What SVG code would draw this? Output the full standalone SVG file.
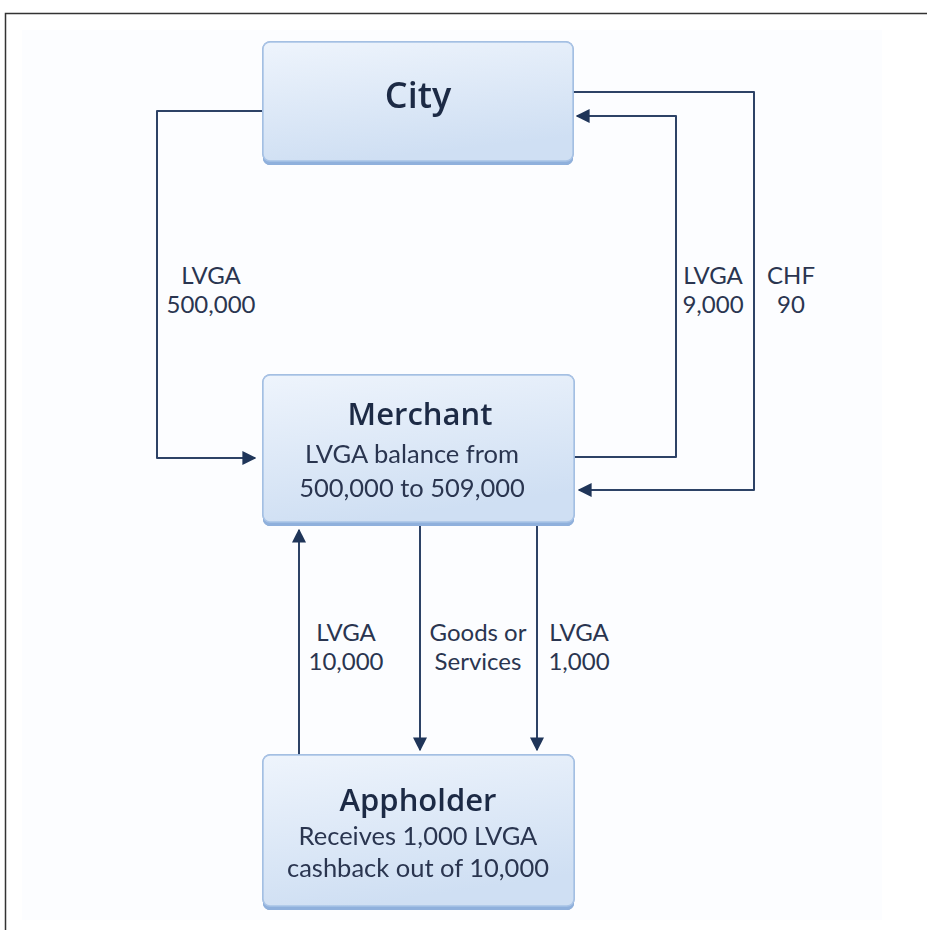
<svg xmlns="http://www.w3.org/2000/svg" width="927" height="930" viewBox="0 0 927 930">
<defs>
<linearGradient id="boxfill" x1="0" y1="0" x2="0.3" y2="1">
<stop offset="0" stop-color="#eef4fc"/>
<stop offset="1" stop-color="#cfdff3"/>
</linearGradient>
<filter id="shadow" x="-20%" y="-20%" width="140%" height="160%">
<feGaussianBlur in="SourceAlpha" stdDeviation="8"/>
<feOffset dy="9"/>
<feComponentTransfer><feFuncA type="linear" slope="0.28"/></feComponentTransfer>
<feFlood flood-color="#6f93c4"/>
<feComposite operator="in" in2="SourceAlpha"/>
<feMerge><feMergeNode/><feMergeNode in="SourceGraphic"/></feMerge>
</filter>
<marker id="arr" viewBox="0 0 10 10" refX="9" refY="5" markerWidth="7" markerHeight="7" orient="auto-start-reverse" markerUnits="strokeWidth">
<path d="M0,0 L10,5 L0,10 z" fill="#1f3559"/>
</marker>
</defs>
<style>
.edge{fill:none;stroke:#2d4266;stroke-width:2;stroke-linejoin:round}
.base{fill:#8fb0dc}
.box{fill:url(#boxfill);stroke:#a8c3e6;stroke-width:1.5}
text{font-family:"Open Sans","Noto Sans","Liberation Sans",sans-serif;fill:#1e2b45;text-anchor:middle}
.title{font-size:31px;font-weight:600}
.sub{font-family:Lato,"Open Sans","Liberation Sans",sans-serif;font-size:25.5px;fill:#2a3550}
.lbl{font-family:Lato,"Open Sans","Liberation Sans",sans-serif;font-size:24px;fill:#2a3550}
</style>
<rect x="0" y="0" width="927" height="930" fill="#ffffff"/>
<path d="M5.5,930 V13.5 H927" fill="none" stroke="#333" stroke-width="1.5"/>
<rect x="22" y="30" width="860" height="890" fill="#fcfdff"/>

<g id="connectors">
<path class="edge" d="M262,111 H157 V458 H255" marker-end="url(#arr)"/>
<path class="edge" d="M573,457 H676 V116 H577" marker-end="url(#arr)"/>
<path class="edge" d="M573,92 H754 V490 H579" marker-end="url(#arr)"/>
<path class="edge" d="M299,755 V530" marker-end="url(#arr)"/>
<path class="edge" d="M420,525 V750" marker-end="url(#arr)"/>
<path class="edge" d="M537,525 V750" marker-end="url(#arr)"/>
<text class="lbl" x="211" y="284">LVGA</text>
<text class="lbl" x="211" y="313">500,000</text>
<text class="lbl" x="713" y="284">LVGA</text>
<text class="lbl" x="713" y="313">9,000</text>
<text class="lbl" x="791" y="284">CHF</text>
<text class="lbl" x="791" y="313">90</text>
<text class="lbl" x="346" y="641">LVGA</text>
<text class="lbl" x="346" y="670">10,000</text>
<text class="lbl" x="478" y="641">Goods or</text>
<text class="lbl" x="478" y="670">Services</text>
<text class="lbl" x="579" y="641">LVGA</text>
<text class="lbl" x="579" y="670">1,000</text>
</g>

<g id="city" filter="url(#shadow)">
<rect class="base" x="263" y="45" width="310" height="120" rx="7"/>
<rect class="box" x="263" y="42" width="310" height="119" rx="7"/>
<text class="title" x="418" y="108" style="font-size:36px">City</text>
</g>

<g id="merchant" filter="url(#shadow)">
<rect class="base" x="263" y="378" width="311" height="148" rx="7"/>
<rect class="box" x="263" y="375" width="311" height="147" rx="7"/>
<text class="title" x="420" y="425">Merchant</text>
<text class="sub" x="412" y="463">LVGA balance from</text>
<text class="sub" x="412" y="497">500,000 to 509,000</text>
</g>

<g id="appholder" filter="url(#shadow)">
<rect class="base" x="263" y="758" width="311" height="152" rx="7"/>
<rect class="box" x="263" y="755" width="311" height="151" rx="7"/>
<text class="title" x="418" y="811">Appholder</text>
<text class="sub" x="418" y="845">Receives 1,000 LVGA</text>
<text class="sub" x="418" y="877">cashback out of 10,000</text>
</g>
</svg>
